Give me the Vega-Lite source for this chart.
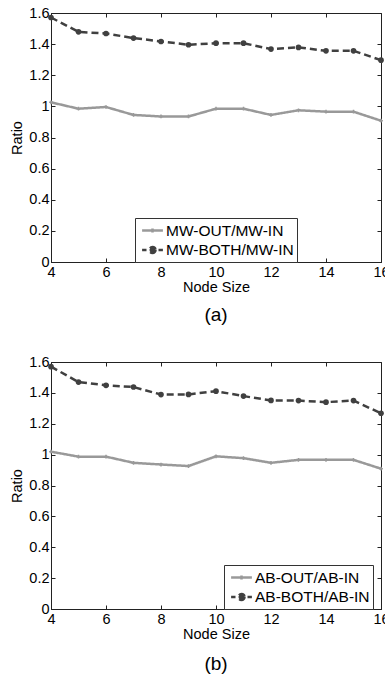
{
  "$schema": "https://vega.github.io/schema/vega-lite/v6.json",
  "padding": {"left": 9, "top": 4, "right": 0, "bottom": 0},
  "config": {
    "font": "Liberation Sans",
    "view": {"stroke": "#222", "strokeWidth": 1},
    "axis": {"grid": false, "domainColor": "#222", "tickColor": "#222", "tickSize": -4, "labelFont": "Liberation Sans", "labelFontSize": 14.5, "labelColor": "#000", "titleFont": "Liberation Sans", "titleFontSize": 14.5, "titleFontWeight": "normal", "titleColor": "#000", "labelPadding": 6}
  },
  "datasets": {
    "a": [
      {"node": 4, "ratio": 1.026, "series": "MW-OUT/MW-IN"},
      {"node": 5, "ratio": 0.985, "series": "MW-OUT/MW-IN"},
      {"node": 6, "ratio": 0.996, "series": "MW-OUT/MW-IN"},
      {"node": 7, "ratio": 0.945, "series": "MW-OUT/MW-IN"},
      {"node": 8, "ratio": 0.935, "series": "MW-OUT/MW-IN"},
      {"node": 9, "ratio": 0.935, "series": "MW-OUT/MW-IN"},
      {"node": 10, "ratio": 0.985, "series": "MW-OUT/MW-IN"},
      {"node": 11, "ratio": 0.985, "series": "MW-OUT/MW-IN"},
      {"node": 12, "ratio": 0.945, "series": "MW-OUT/MW-IN"},
      {"node": 13, "ratio": 0.975, "series": "MW-OUT/MW-IN"},
      {"node": 14, "ratio": 0.966, "series": "MW-OUT/MW-IN"},
      {"node": 15, "ratio": 0.966, "series": "MW-OUT/MW-IN"},
      {"node": 16, "ratio": 0.908, "series": "MW-OUT/MW-IN"},
      {"node": 4, "ratio": 1.571, "series": "MW-BOTH/MW-IN"},
      {"node": 5, "ratio": 1.479, "series": "MW-BOTH/MW-IN"},
      {"node": 6, "ratio": 1.468, "series": "MW-BOTH/MW-IN"},
      {"node": 7, "ratio": 1.439, "series": "MW-BOTH/MW-IN"},
      {"node": 8, "ratio": 1.417, "series": "MW-BOTH/MW-IN"},
      {"node": 9, "ratio": 1.396, "series": "MW-BOTH/MW-IN"},
      {"node": 10, "ratio": 1.406, "series": "MW-BOTH/MW-IN"},
      {"node": 11, "ratio": 1.406, "series": "MW-BOTH/MW-IN"},
      {"node": 12, "ratio": 1.368, "series": "MW-BOTH/MW-IN"},
      {"node": 13, "ratio": 1.379, "series": "MW-BOTH/MW-IN"},
      {"node": 14, "ratio": 1.357, "series": "MW-BOTH/MW-IN"},
      {"node": 15, "ratio": 1.357, "series": "MW-BOTH/MW-IN"},
      {"node": 16, "ratio": 1.297, "series": "MW-BOTH/MW-IN"}
    ],
    "b": [
      {"node": 4, "ratio": 1.019, "series": "AB-OUT/AB-IN"},
      {"node": 5, "ratio": 0.987, "series": "AB-OUT/AB-IN"},
      {"node": 6, "ratio": 0.987, "series": "AB-OUT/AB-IN"},
      {"node": 7, "ratio": 0.947, "series": "AB-OUT/AB-IN"},
      {"node": 8, "ratio": 0.936, "series": "AB-OUT/AB-IN"},
      {"node": 9, "ratio": 0.926, "series": "AB-OUT/AB-IN"},
      {"node": 10, "ratio": 0.989, "series": "AB-OUT/AB-IN"},
      {"node": 11, "ratio": 0.977, "series": "AB-OUT/AB-IN"},
      {"node": 12, "ratio": 0.947, "series": "AB-OUT/AB-IN"},
      {"node": 13, "ratio": 0.966, "series": "AB-OUT/AB-IN"},
      {"node": 14, "ratio": 0.966, "series": "AB-OUT/AB-IN"},
      {"node": 15, "ratio": 0.966, "series": "AB-OUT/AB-IN"},
      {"node": 16, "ratio": 0.909, "series": "AB-OUT/AB-IN"},
      {"node": 4, "ratio": 1.570, "series": "AB-BOTH/AB-IN"},
      {"node": 5, "ratio": 1.470, "series": "AB-BOTH/AB-IN"},
      {"node": 6, "ratio": 1.449, "series": "AB-BOTH/AB-IN"},
      {"node": 7, "ratio": 1.438, "series": "AB-BOTH/AB-IN"},
      {"node": 8, "ratio": 1.389, "series": "AB-BOTH/AB-IN"},
      {"node": 9, "ratio": 1.390, "series": "AB-BOTH/AB-IN"},
      {"node": 10, "ratio": 1.411, "series": "AB-BOTH/AB-IN"},
      {"node": 11, "ratio": 1.379, "series": "AB-BOTH/AB-IN"},
      {"node": 12, "ratio": 1.351, "series": "AB-BOTH/AB-IN"},
      {"node": 13, "ratio": 1.350, "series": "AB-BOTH/AB-IN"},
      {"node": 14, "ratio": 1.340, "series": "AB-BOTH/AB-IN"},
      {"node": 15, "ratio": 1.350, "series": "AB-BOTH/AB-IN"},
      {"node": 16, "ratio": 1.268, "series": "AB-BOTH/AB-IN"}
    ]
  },
  "spacing": 27,
  "vconcat": [
    {
      "width": 330, "height": 249,
      "title": {"text": "(a)", "orient": "bottom", "fontSize": 19, "fontWeight": "normal", "font": "Liberation Sans", "offset": 12, "color": "#000"},
      "data": {"name": "a"},
      "layer": [
        {
          "mark": {"type": "line", "strokeWidth": 2.5},
          "encoding": {
            "x": {"field": "node", "type": "quantitative", "scale": {"domain": [4, 16], "nice": false}, "axis": {"values": [4, 6, 8, 10, 12, 14, 16], "title": "Node Size", "titlePadding": 2, "labelPadding": 7, "labelFlush": false}},
            "y": {"field": "ratio", "type": "quantitative", "scale": {"domain": [0, 1.6], "nice": false}, "axis": {"values": [0, 0.2, 0.4, 0.6, 0.8, 1, 1.2, 1.4, 1.6], "format": "~g", "title": "Ratio", "titlePadding": 4}},
            "color": {"field": "series", "type": "nominal", "scale": {"domain": ["MW-OUT/MW-IN", "MW-BOTH/MW-IN"], "range": ["#999999", "#404040"]},
              "legend": {"orient": "none", "legendX": 84, "legendY": 205, "title": null, "strokeColor": "#333", "fillColor": "white", "padding": 3, "labelFontSize": 15.5, "labelFont": "Liberation Sans", "labelColor": "#000", "labelLimit": 300, "symbolSize": 256, "symbolStrokeWidth": 2.5, "symbolOffset": 5, "labelOffset": 4, "rowPadding": 1.5,
                "encode": {"symbols": {"update": {
                  "shape": {"signal": "indexof(datum.value, 'BOTH') >= 0 ? 'M-1.3,0H-0.75M0.75,0H1.3M0.375,0A0.375,0.375,0,1,1,-0.375,0A0.375,0.375,0,1,1,0.375,0Z' : 'M-1.3,0H1.3M0,-0.25V0.25'"},
                  "fill": {"signal": "indexof(datum.value, 'BOTH') >= 0 ? '#404040' : 'transparent'"}
                }}}}},
            "strokeDash": {"field": "series", "type": "nominal", "scale": {"domain": ["MW-OUT/MW-IN", "MW-BOTH/MW-IN"], "range": [[1, 0], [7, 4]]}, "legend": null}
          }
        },
        {
          "transform": [{"filter": "datum.series == 'MW-BOTH/MW-IN'"}],
          "mark": {"type": "point", "shape": "circle", "filled": true, "size": 32, "color": "#404040", "opacity": 1},
          "encoding": {
            "x": {"field": "node", "type": "quantitative", "axis": {"orient": "top", "values": [4, 6, 8, 10, 12, 14, 16], "labels": false, "title": null, "domain": false}},
            "y": {"field": "ratio", "type": "quantitative", "axis": {"orient": "right", "values": [0, 0.2, 0.4, 0.6, 0.8, 1, 1.2, 1.4, 1.6], "labels": false, "title": null, "domain": false}}
          }
        },
        {
          "transform": [{"filter": "datum.series == 'MW-OUT/MW-IN'"}],
          "mark": {"type": "point", "shape": "cross", "filled": true, "size": 14, "color": "#999999", "opacity": 1},
          "encoding": {
            "x": {"field": "node", "type": "quantitative", "axis": null},
            "y": {"field": "ratio", "type": "quantitative", "axis": null}
          }
        }
      ],
      "resolve": {"axis": {"x": "independent", "y": "independent"}}
    },
    {
      "width": 330, "height": 247,
      "title": {"text": "(b)", "orient": "bottom", "fontSize": 19, "fontWeight": "normal", "font": "Liberation Sans", "offset": 14, "color": "#000"},
      "data": {"name": "b"},
      "layer": [
        {
          "mark": {"type": "line", "strokeWidth": 2.5},
          "encoding": {
            "x": {"field": "node", "type": "quantitative", "scale": {"domain": [4, 16], "nice": false}, "axis": {"values": [4, 6, 8, 10, 12, 14, 16], "title": "Node Size", "titlePadding": 2, "labelPadding": 7, "labelFlush": false}},
            "y": {"field": "ratio", "type": "quantitative", "scale": {"domain": [0, 1.6], "nice": false}, "axis": {"values": [0, 0.2, 0.4, 0.6, 0.8, 1, 1.2, 1.4, 1.6], "format": "~g", "title": "Ratio", "titlePadding": 4}},
            "color": {"field": "series", "type": "nominal", "scale": {"domain": ["AB-OUT/AB-IN", "AB-BOTH/AB-IN"], "range": ["#999999", "#404040"]},
              "legend": {"orient": "none", "legendX": 173, "legendY": 203, "title": null, "strokeColor": "#333", "fillColor": "white", "padding": 3, "labelFontSize": 15.5, "labelFont": "Liberation Sans", "labelColor": "#000", "labelLimit": 300, "symbolSize": 256, "symbolStrokeWidth": 2.5, "symbolOffset": 5, "labelOffset": 4, "rowPadding": 1.5,
                "encode": {"symbols": {"update": {
                  "shape": {"signal": "indexof(datum.value, 'BOTH') >= 0 ? 'M-1.3,0H-0.75M0.75,0H1.3M0.375,0A0.375,0.375,0,1,1,-0.375,0A0.375,0.375,0,1,1,0.375,0Z' : 'M-1.3,0H1.3M0,-0.25V0.25'"},
                  "fill": {"signal": "indexof(datum.value, 'BOTH') >= 0 ? '#404040' : 'transparent'"}
                }}}}},
            "strokeDash": {"field": "series", "type": "nominal", "scale": {"domain": ["AB-OUT/AB-IN", "AB-BOTH/AB-IN"], "range": [[1, 0], [7, 4]]}, "legend": null}
          }
        },
        {
          "transform": [{"filter": "datum.series == 'AB-BOTH/AB-IN'"}],
          "mark": {"type": "point", "shape": "circle", "filled": true, "size": 32, "color": "#404040", "opacity": 1},
          "encoding": {
            "x": {"field": "node", "type": "quantitative", "axis": {"orient": "top", "values": [4, 6, 8, 10, 12, 14, 16], "labels": false, "title": null, "domain": false}},
            "y": {"field": "ratio", "type": "quantitative", "axis": {"orient": "right", "values": [0, 0.2, 0.4, 0.6, 0.8, 1, 1.2, 1.4, 1.6], "labels": false, "title": null, "domain": false}}
          }
        },
        {
          "transform": [{"filter": "datum.series == 'AB-OUT/AB-IN'"}],
          "mark": {"type": "point", "shape": "cross", "filled": true, "size": 14, "color": "#999999", "opacity": 1},
          "encoding": {
            "x": {"field": "node", "type": "quantitative", "axis": null},
            "y": {"field": "ratio", "type": "quantitative", "axis": null}
          }
        }
      ],
      "resolve": {"axis": {"x": "independent", "y": "independent"}}
    }
  ],
  "resolve": {"scale": {"color": "independent", "strokeDash": "independent"}, "legend": {"color": "independent"}}
}
